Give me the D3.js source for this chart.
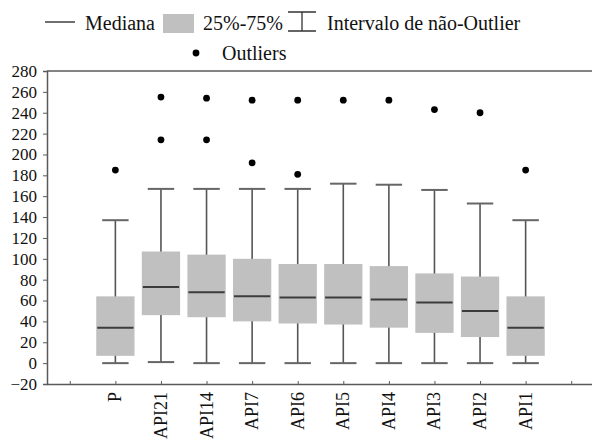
<!DOCTYPE html>
<html>
<head><title>Box plot</title></head>
<body style="margin:0;background:#fff">
<svg id="chart" width="592" height="441"></svg>
<script src="https://d3js.org/d3.v7.min.js"></script>
<script>

const categories = ["P", "API21", "API14", "API7", "API6", "API5", "API4", "API3", "API2", "API1"];
const whiskerLow = [0, 1, 0, 0, 0, 0, 0, 0, 0, 0];
const q1 = [7, 46, 44, 40, 38, 37, 34, 29, 25, 7];
const median = [34, 73, 68, 64, 63, 63, 61, 58, 50, 34];
const q3 = [64, 107, 104, 100, 95, 95, 93, 86, 83, 64];
const whiskerHigh = [137, 167, 167, 167, 167, 172, 171, 166, 153, 137];
const outliers = [[185], [255, 214], [254, 214], [252, 192], [252, 181], [252], [252], [243], [240], [185]];
const yTicks = d3.range(-20, 281, 20);

let svg = d3.select('#chart')
let plotLeft = 47, plotTop = 71, plotBottom = 384, plotRight = 594;
let axisColor = '#5a5a5a';
let serif = 'Liberation Serif';

// slots 0 and 11 are empty, categories sit on 1..10
let x = d3.scaleLinear().domain([-0.5, 11.5]).range([plotLeft, plotRight])
let y = d3.scaleLinear().domain([-20, 280]).range([plotBottom, plotTop])
let step = x(1) - x(0);
let boxW = step * 0.84, capW = step * 0.58;

// frame: top line
svg.append('line').attr('x1', plotLeft).attr('x2', 592).attr('y1', plotTop).attr('y2', plotTop)
  .attr('stroke', axisColor).attr('stroke-width', 1.5)

// y axis
let yAxis = svg.append('g').attr('transform', 'translate(' + plotLeft + ',0)')
  .call(d3.axisLeft(y).tickValues(yTicks).tickSize(4).tickPadding(6).tickFormat(d3.format('d')))
yAxis.select('.domain').attr('stroke', axisColor).attr('stroke-width', 1.5)
yAxis.selectAll('.tick line').attr('stroke', axisColor)
yAxis.selectAll('text').attr('font-size', 17)

// x axis (ticks pointing inward)
let xAxis = svg.append('g').attr('transform', 'translate(0,' + plotBottom + ')')
  .call(d3.axisBottom(x).tickValues(d3.range(0, 12)).tickSize(-3).tickSizeOuter(0).tickFormat(''))
xAxis.select('.domain').attr('stroke', axisColor).attr('stroke-width', 1.5)
xAxis.selectAll('.tick line').attr('stroke', axisColor)

svg.append('g').selectAll('text')
  .data(categories)
  .enter().append('text')
    .attr('transform', (d, i) => 'translate(' + (x(i + 1) + 6) + ',' + 392 + ') rotate(-90)')
    .attr('text-anchor', 'end')
    .attr('font-size', 18)
    .text(d => d)

// boxes
let g = svg.append('g').selectAll('g')
  .data(categories)
  .enter().append('g')

g.append('line')
  .attr('x1', (d, i) => x(i + 1)).attr('x2', (d, i) => x(i + 1))
  .attr('y1', (d, i) => y(whiskerLow[i])).attr('y2', (d, i) => y(whiskerHigh[i]))
  .attr('stroke', '#555').attr('stroke-width', 1.6)

g.selectAll('.cap')
  .data((d, i) => [[i, whiskerLow[i]], [i, whiskerHigh[i]]])
  .enter().append('line')
    .attr('x1', d => x(d[0] + 1) - capW / 2).attr('x2', d => x(d[0] + 1) + capW / 2)
    .attr('y1', d => y(d[1])).attr('y2', d => y(d[1]))
    .attr('stroke', '#666').attr('stroke-width', 2)

g.append('rect')
  .attr('x', (d, i) => x(i + 1) - boxW / 2)
  .attr('width', boxW)
  .attr('y', (d, i) => y(q3[i]))
  .attr('height', (d, i) => y(q1[i]) - y(q3[i]))
  .attr('fill', '#c0c0c0')

g.append('line')
  .attr('x1', (d, i) => x(i + 1) - boxW / 2 + 1).attr('x2', (d, i) => x(i + 1) + boxW / 2 - 1)
  .attr('y1', (d, i) => y(median[i])).attr('y2', (d, i) => y(median[i]))
  .attr('stroke', '#3c3c3c').attr('stroke-width', 2)

g.selectAll('circle')
  .data((d, i) => outliers[i].map(v => [i, v]))
  .enter().append('circle')
    .attr('cx', d => x(d[0] + 1))
    .attr('cy', d => y(d[1]))
    .attr('r', 3.4)
    .attr('fill', '#000')

// legend
let leg = svg.append('g')
leg.append('line').attr('x1', 45).attr('x2', 75).attr('y1', 22).attr('y2', 22).attr('stroke', '#222').attr('stroke-width', 1.3)
leg.append('text').attr('x', 85).attr('y', 30).text('Mediana')
leg.append('rect').attr('x', 163).attr('y', 14).attr('width', 31).attr('height', 19).attr('fill', '#c0c0c0')
leg.append('text').attr('x', 203).attr('y', 30).text('25%-75%')
leg.append('path').attr('d', 'M288,12H316M302,12V31M288,31H316').attr('stroke', '#333').attr('stroke-width', 1.3).attr('fill', 'none')
leg.append('text').attr('x', 327).attr('y', 30).text('Intervalo de não-Outlier')
leg.append('circle').attr('cx', 196).attr('cy', 53).attr('r', 3.4).attr('fill', '#000')
leg.append('text').attr('x', 222).attr('y', 60).text('Outliers')
leg.selectAll('text').attr('font-size', 20)

// every label in the same serif face
svg.selectAll('text').attr('font-family', serif).attr('fill', '#111')

</script>
</body>
</html>
